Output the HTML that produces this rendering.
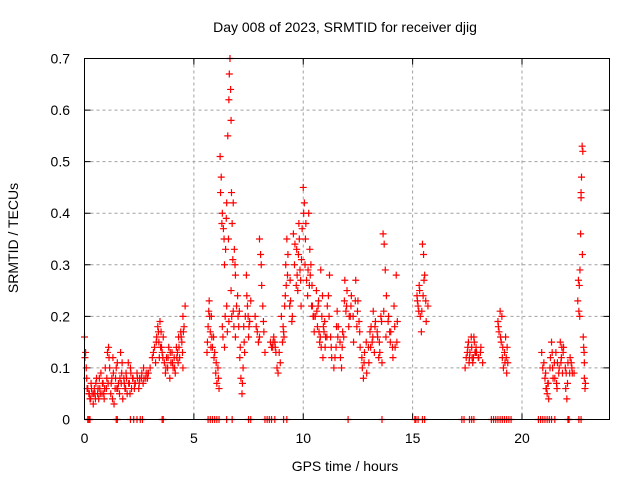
<!DOCTYPE html>
<html><head><meta charset="utf-8"><style>
body{margin:0;background:#fff}
svg{display:block;font-family:"Liberation Sans","DejaVu Sans",sans-serif}
</style></head><body>
<svg id="chart" width="640" height="480" viewBox="0 0 640 480">
<rect x="0" y="0" width="640" height="480" fill="#fff"/>
<text x="345" y="32" font-size="14" text-anchor="middle" fill="#000">Day 008 of 2023, SRMTID for receiver djig</text>
<text x="345" y="471" font-size="14" text-anchor="middle" fill="#000">GPS time / hours</text>
<text x="18" y="238" font-size="14" text-anchor="middle" fill="#000" transform="rotate(-90 18 238)">SRMTID / TECUs</text>
<g id="grid"></g>
<g id="axes"></g>
<g id="marks"></g>
<rect x="84.5" y="58.5" width="525" height="361" fill="none" stroke="#000" stroke-width="1"/>
</svg>
<script>
const xTicks = [0, 5, 10, 15, 20];
const yTicks = [0, 0.1, 0.2, 0.3, 0.4, 0.5, 0.6, 0.7];
const yTickLabels = ["0", "0.1", "0.2", "0.3", "0.4", "0.5", "0.6", "0.7"];
const times = [
0.0,0.05,0.1,0.15,0.2,0.25,0.3,0.35,0.4,0.45,0.5,
0.55,0.6,0.65,0.7,0.75,0.8,0.85,0.9,0.95,1.0,1.05,1.1,1.15,1.2,1.25,
1.3,1.35,1.4,1.45,1.5,1.55,1.6,1.65,1.7,1.75,1.8,
1.85,1.9,1.95,2.0,2.05,2.1,2.15,2.2,2.3,2.4,2.5,2.6,2.7,2.8,2.9,3.0,
3.1,3.2,3.25,3.3,3.35,3.4,3.45,3.5,3.55,3.6,
3.65,3.7,3.75,3.8,3.85,3.9,3.95,4.0,4.05,4.1,4.15,4.2,
4.25,4.3,4.35,4.4,4.45,4.5,4.55,4.6,4.5,
5.6,5.65,5.7,5.75,5.8,5.85,5.9,5.95,6.0,6.05,6.1,6.15,
6.2,6.25,6.3,6.35,6.4,6.45,6.5,6.55,6.6,6.62,6.65,6.68,6.7,6.72,6.75,6.8,6.85,6.9,
6.3,6.4,6.5,6.6,6.7,6.8,6.9,
7.0,7.05,7.1,7.15,7.2,7.25,7.3,7.35,7.4,7.45,7.5,7.55,7.6,
7.8,7.9,8.0,8.05,8.1,8.15,8.2,8.25,
8.5,8.6,8.7,8.8,8.85,8.9,9.0,9.05,9.1,9.15,9.2,9.25,9.3,9.4,9.5,9.55,
9.6,9.7,9.75,9.8,9.85,9.9,9.95,10.0,10.05,10.1,10.15,10.2,10.25,10.3,10.35,10.4,10.45,10.5,
10.6,10.65,10.7,10.75,10.8,10.85,10.9,10.95,11.0,11.1,11.2,11.25,11.3,
11.4,11.5,11.55,11.6,11.7,11.75,11.8,11.9,11.95,12.0,12.1,12.2,12.3,
12.4,12.5,12.55,12.6,12.7,12.75,12.8,12.9,13.0,
13.05,13.1,13.15,13.2,13.3,13.4,13.5,13.55,13.6,13.65,13.7,13.75,13.8,
13.9,14.0,14.1,14.15,14.2,14.25,14.3,
15.2,15.25,15.3,15.35,15.4,15.45,15.5,15.55,15.6,15.7,
17.4,17.5,17.55,17.6,17.7,17.75,17.8,17.85,17.9,18.0,18.1,18.2,
18.9,18.95,19.0,19.05,19.1,19.15,19.2,19.25,19.3,19.35,
20.9,21.0,21.05,21.1,21.15,21.2,21.3,21.35,21.4,21.5,21.55,21.6,21.7,21.75,21.8,21.85,21.9,22.0,22.05,22.1,22.2,22.3,
22.55,22.6,22.62,22.65,22.68,22.7,22.72,22.75,22.78,22.8,22.82,22.85,22.9,22.85
];
const values = [
0.16,0.13,0.08,0.06,0.05,0.04,0.07,0.05,0.03,0.06,0.04,
0.08,0.05,0.04,0.06,0.09,0.05,0.07,0.04,0.10,0.06,0.13,0.14,0.10,0.05,0.08,
0.12,0.03,0.06,0.10,0.11,0.07,0.05,0.13,0.09,0.04,0.08,
0.06,0.09,0.05,0.11,0.07,0.10,0.06,0.08,0.07,0.09,0.07,0.08,0.10,0.08,0.09,0.10,
0.12,0.14,0.11,0.16,0.18,0.15,0.19,0.17,0.13,0.16,
0.11,0.09,0.12,0.10,0.14,0.08,0.11,0.13,0.10,0.12,0.09,0.14,
0.13,0.16,0.12,0.17,0.15,0.20,0.18,0.22,0.10,
0.13,0.18,0.23,0.17,0.20,0.14,0.16,0.13,0.09,0.07,0.10,0.06,
0.51,0.47,0.40,0.37,0.30,0.33,0.42,0.55,0.62,0.67,0.70,0.64,0.58,0.44,0.38,0.42,0.33,0.28,
0.18,0.14,0.22,0.19,0.25,0.21,0.16,
0.24,0.18,0.12,0.08,0.05,0.10,0.15,0.20,0.28,0.22,0.16,0.19,0.23,
0.20,0.17,0.35,0.32,0.26,0.22,0.17,0.13,
0.15,0.14,0.15,0.10,0.09,0.13,0.20,0.15,0.17,0.22,0.30,0.35,0.32,0.27,0.20,0.36,
0.30,0.33,0.25,0.38,0.29,0.22,0.37,0.45,0.42,0.35,0.27,0.24,0.40,0.33,0.30,0.26,0.20,0.17,
0.25,0.18,0.23,0.15,0.29,0.20,0.12,0.17,0.14,0.22,0.28,0.16,0.12,
0.10,0.14,0.21,0.18,0.12,0.10,0.17,0.27,0.21,0.25,0.20,0.24,0.15,
0.27,0.23,0.19,0.14,0.10,0.08,0.13,0.09,0.11,
0.17,0.18,0.15,0.21,0.19,0.16,0.13,0.20,0.11,0.36,0.34,0.29,0.24,
0.20,0.17,0.12,0.22,0.14,0.28,0.19,
0.24,0.22,0.26,0.20,0.17,0.34,0.32,0.28,0.23,0.22,
0.10,0.13,0.15,0.12,0.14,0.11,0.16,0.13,0.14,0.12,0.13,0.11,
0.19,0.17,0.21,0.15,0.12,0.10,0.13,0.16,0.09,0.11,
0.13,0.11,0.08,0.06,0.05,0.07,0.12,0.15,0.10,0.08,0.13,0.06,0.10,0.15,0.12,0.09,0.14,0.06,0.04,0.11,0.12,0.09,
0.23,0.21,0.26,0.29,0.36,0.43,0.47,0.53,0.52,0.16,0.14,0.08,0.07,0.11
];
const times2 = [
0.02,0.12,0.22,0.32,0.42,0.52,0.62,0.72,0.82,0.92,1.02,1.12,1.22,1.32,1.42,1.52,1.62,1.72,1.82,1.92,2.02,2.12,2.22,2.32,2.42,2.52,2.62,2.72,2.82,2.92,
0.08,0.28,0.48,0.68,0.88,1.08,1.28,1.48,1.68,1.88,2.08,2.28,2.48,2.68,2.88,
3.15,3.28,3.38,3.48,3.58,3.72,3.82,3.92,4.02,4.12,4.22,4.32,4.42,4.52,3.42,3.52,4.28,4.48,
5.62,5.72,5.82,5.92,6.02,6.12,5.68,5.78,
6.22,6.28,6.38,6.48,6.58,6.78,6.88,6.95,6.33,6.43,6.53,6.73,6.83,
7.02,7.12,7.22,7.32,7.42,7.52,7.08,7.28,7.48,7.85,7.95,8.08,8.18,8.0,
8.55,8.65,8.75,8.95,9.08,9.18,9.28,9.38,9.48,8.62,8.72,9.12,9.22,9.42,
9.62,9.72,9.82,9.92,10.02,10.12,10.22,10.32,10.42,9.68,9.78,9.88,10.08,10.28,10.38,10.48,
10.55,10.68,10.78,10.88,10.98,11.08,11.18,11.28,10.62,10.72,10.82,10.92,11.02,11.15,
11.45,11.58,11.68,11.78,11.88,11.98,12.08,12.18,12.28,12.38,12.48,12.58,12.68,12.78,12.88,12.98,11.52,11.85,12.15,12.45,
13.08,13.18,13.28,13.38,13.48,13.58,13.68,13.78,13.88,13.98,14.08,14.18,14.28,13.25,13.45,13.95,
15.22,15.32,15.42,15.52,15.62,15.28,15.48,
17.45,17.52,17.62,17.72,17.82,17.92,18.02,18.12,17.58,17.68,17.78,17.88,
18.92,19.02,19.12,19.22,19.32,19.08,19.28,
20.95,21.08,21.18,21.28,21.38,21.48,21.58,21.68,21.78,21.88,21.98,22.08,22.18,22.28,22.38,21.12,21.22,21.42,21.62,21.82,22.02,22.25,
22.58,22.64,22.7,22.76,22.84,22.88
];
const values2 = [
0.12,0.06,0.05,0.06,0.05,0.07,0.06,0.05,0.07,0.06,0.08,0.12,0.07,0.09,0.08,0.06,0.08,0.11,0.07,0.08,0.07,0.09,0.08,0.07,0.08,0.08,0.09,0.08,0.09,0.09,
0.10,0.04,0.05,0.08,0.05,0.07,0.04,0.06,0.07,0.06,0.05,0.06,0.06,0.07,0.08,
0.13,0.15,0.17,0.14,0.12,0.10,0.12,0.13,0.11,0.10,0.12,0.14,0.16,0.17,0.12,0.14,0.11,0.13,
0.15,0.20,0.16,0.12,0.11,0.08,0.21,0.14,
0.44,0.38,0.35,0.39,0.35,0.31,0.30,0.22,0.16,0.20,0.17,0.20,0.18,
0.20,0.14,0.07,0.13,0.24,0.18,0.21,0.18,0.20,0.18,0.15,0.30,0.19,0.16,
0.14,0.16,0.13,0.11,0.18,0.24,0.28,0.22,0.19,0.15,0.14,0.16,0.26,0.23,
0.34,0.28,0.35,0.31,0.40,0.38,0.29,0.28,0.22,0.26,0.32,0.27,0.30,0.26,0.22,0.20,
0.20,0.22,0.16,0.24,0.19,0.16,0.20,0.14,0.21,0.17,0.14,0.18,0.16,0.24,
0.12,0.16,0.15,0.14,0.23,0.22,0.18,0.22,0.20,0.23,0.21,0.17,0.12,0.11,0.15,0.14,0.18,0.16,0.20,0.18,
0.14,0.16,0.18,0.17,0.15,0.19,0.21,0.16,0.19,0.15,0.14,0.18,0.15,0.13,0.12,0.17,
0.23,0.25,0.21,0.27,0.19,0.21,0.24,
0.12,0.14,0.13,0.12,0.15,0.13,0.12,0.14,0.11,0.16,0.12,0.13,
0.18,0.16,0.14,0.11,0.14,0.20,0.12,
0.10,0.09,0.07,0.10,0.13,0.11,0.07,0.09,0.11,0.13,0.10,0.07,0.09,0.10,0.09,0.06,0.04,0.08,0.11,0.14,0.09,0.11,
0.27,0.20,0.44,0.32,0.13,0.06
];
const zeroTimes = [0.15,0.2,0.25,1.45,1.5,2.1,2.25,2.4,2.55,2.65,3.55,3.6,5.65,5.75,5.85,5.95,6.05,6.15,6.5,6.75,7.5,7.6,8.25,8.35,8.45,8.55,8.7,9.1,9.25,12.05,13.6,15.1,15.15,15.25,15.45,15.55,17.25,17.35,17.6,17.7,17.8,18.6,18.7,18.8,18.9,19.0,19.1,19.2,19.3,19.4,19.5,20.75,20.85,20.95,21.05,21.15,21.25,21.35,21.5,22.1,22.15,22.6,22.7];
const NS = "http://www.w3.org/2000/svg";
const X0 = 84.5, PW = 525, Y0 = 419.5, PH = 361;
function xs(t){ return X0 + t / 24 * PW; }
function ys(v){ return Y0 - v / 0.7 * PH; }
const grid = document.getElementById('grid');
const axes = document.getElementById('axes');
const marks = document.getElementById('marks');
function mk(tag, attrs, parent){ const e = document.createElementNS(NS, tag); for (const k in attrs) e.setAttribute(k, attrs[k]); parent.appendChild(e); return e; }
xTicks.forEach(t => {
  const x = xs(t);
  if (t > 0) {
    const g = mk('line', {x1:x, y1:58.5, x2:x, y2:Y0, stroke:'#a0a0a0', 'stroke-dasharray':'3,3', 'stroke-width':1}, grid);
    
    
  }
  const tk = mk('path', {d:`M${x},${Y0}v-6M${x},58.5v6`, stroke:'#000', 'stroke-width':1}, axes);
  
  
  const lb = mk('text', {x:x, y:443, 'font-size':14, 'text-anchor':'middle', fill:'#000'}, axes);
  lb.textContent = String(t);
  
  
});
yTicks.forEach((v, i) => {
  const y = ys(v);
  if (v > 0 && v < 0.7) {
    const g = mk('line', {x1:X0, y1:y, x2:609.5, y2:y, stroke:'#a0a0a0', 'stroke-dasharray':'3,3', 'stroke-width':1}, grid);
    
    
  }
  const tk = mk('path', {d:`M${X0},${y}h6M609.5,${y}h-6`, stroke:'#000', 'stroke-width':1}, axes);
  
  
  const lb = mk('text', {x:70, y:y + 5, 'font-size':14, 'text-anchor':'end', fill:'#000'}, axes);
  lb.textContent = yTickLabels[i];
  
  
});
function plus(x, y){
  const p = mk('path', {d:`M${x-3.5},${y}h7M${x},${y-3.5}v7`, stroke:'#ff0000', 'stroke-width':1.2}, marks);
  return p;
}
times.forEach((t, i) => {
  const p = plus(xs(t), ys(values[i]));
  
  
});
times2.forEach((t, i) => {
  const p = plus(xs(t), ys(values2[i]));
  
  
});
zeroTimes.forEach(t => {
  const p = plus(xs(t), ys(0));
  
  
});
</script>
</body></html>
